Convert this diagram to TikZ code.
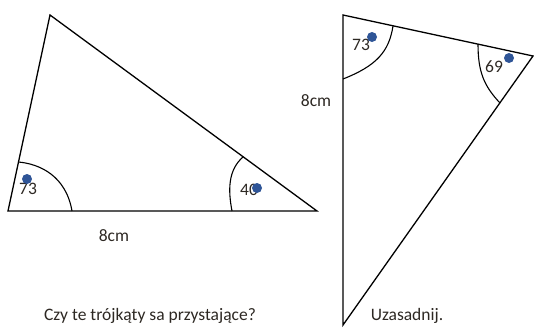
\documentclass[tikz,border=0pt]{standalone}
\usepackage{fontspec}
\setmainfont{Carlito}
\definecolor{kropka}{RGB}{47,85,151}
\definecolor{tekst}{RGB}{45,40,35}
\tikzset{
  bok/.style={line width=1.3pt,line join=miter},
  luk/.style={line width=1.1pt},
  kropka/.style={circle,fill=kropka,inner sep=0pt,minimum size=10pt},
  opis/.style={text=tekst,font=\fontsize{17.5}{20}\selectfont,inner sep=0pt}
}
\begin{document}
\begin{tikzpicture}[x=1pt,y=-1pt]
  \useasboundingbox (0,0) rectangle (534,327);
  % pierwszy trojkat
  \coordinate (A) at (8,211);
  \coordinate (B) at (317,211);
  \coordinate (C) at (50,15);
  \draw[bok] (A) -- (B) -- (C) -- cycle;
  \coordinate (A1) at (18.5,162);
  \coordinate (A2) at (72,211);
  \coordinate (B1) at (243,157);
  \coordinate (B2) at (232,211);
  \draw[luk] (A1) .. controls (40,164) and (66,176) .. (A2);
  \draw[luk] (B1) .. controls (228,170) and (228,190) .. (B2);
  \node[opis] (kA) at (28,189) {73};
  \node[kropka] (dA) at (27,179) {};
  \node[opis] (kB) at (249,190) {40};
  \node[kropka] (dB) at (257,188) {};
  \node[opis] (dlA) at (114,236) {8cm};
  % drugi trojkat
  \coordinate (P) at (343,15);
  \coordinate (Q) at (533,56);
  \coordinate (R) at (343,325);
  \draw[bok] (P) -- (Q) -- (R) -- cycle;
  \coordinate (P1) at (393,26);
  \coordinate (P2) at (343,79);
  \coordinate (Q1) at (478,44);
  \coordinate (Q2) at (500,103);
  \draw[luk] (P1) .. controls (389,52) and (376,66) .. (P2);
  \draw[luk] (Q1) .. controls (478,72) and (484,86) .. (Q2);
  \node[opis] (kP) at (361,45) {73};
  \node[kropka] (dP) at (372,37) {};
  \node[opis] (kQ) at (494,67) {69};
  \node[kropka] (dQ) at (509,58) {};
  \node[opis] (dlP) at (316,101) {8cm};
  % pytanie
  \node[opis] (pyt) at (150,316) {Czy te trójkąty sa przystające?};
  \node[opis] (uz) at (407,316) {Uzasadnij.};
\end{tikzpicture}
\end{document}
